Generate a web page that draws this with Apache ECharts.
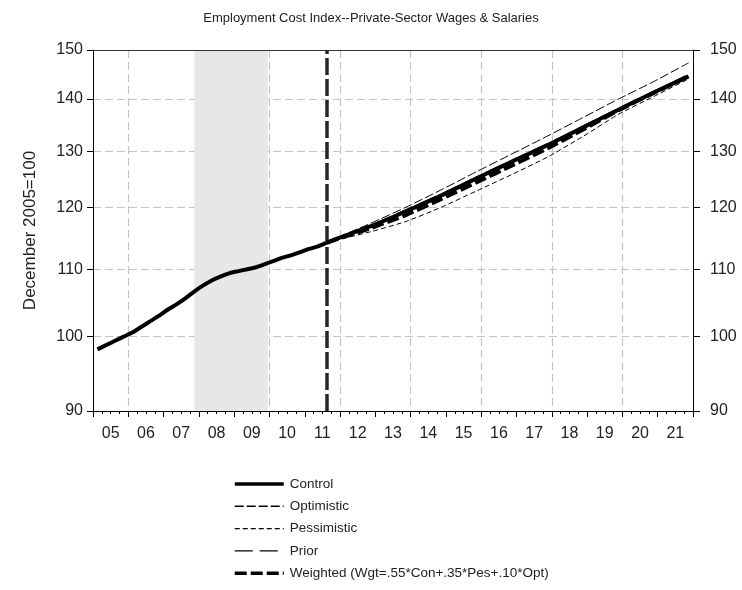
<!DOCTYPE html>
<html>
<head>
<meta charset="utf-8">
<script src="https://cdn.jsdelivr.net/npm/echarts@6/dist/echarts.min.js"></script>
<style>
  html, body { margin: 0; padding: 0; background: #fff; }
  #chart { width: 742px; height: 590px; }
</style>
</head>
<body>
<div id="chart"></div>
<script>
// ECI private-sector wages & salaries, index December 2005 = 100
const yearLabels = ['05','06','07','08','09','10','11','12','13','14','15','16','17','18','19','20','21'];
const yTicks = [90, 100, 110, 120, 130, 140, 150];

// Quarterly history
const histQuarters = [
  '2005Q1','2005Q2','2005Q3','2005Q4','2006Q1','2006Q2','2006Q3','2006Q4',
  '2007Q1','2007Q2','2007Q3','2007Q4','2008Q1','2008Q2','2008Q3','2008Q4',
  '2009Q1','2009Q2','2009Q3','2009Q4','2010Q1','2010Q2','2010Q3','2010Q4',
  '2011Q1','2011Q2','2011Q3'
];
const histValues = [
  98.2, 98.8, 99.4, 100.0, 100.6, 101.4, 102.2, 103.0,
  103.9, 104.7, 105.6, 106.6, 107.5, 108.3, 108.9, 109.4,
  109.7, 110.0, 110.3, 110.8, 111.3, 111.8, 112.2, 112.7,
  113.2, 113.6, 114.2
];

// Forecast paths (first entry is the last history quarter)
const fcstQuarters = ['2011Q3','2011Q4','2012Q4','2013Q4','2014Q4','2015Q4','2016Q4','2017Q4','2018Q4','2019Q4','2020Q4','2021Q4'];
const controlFcst     = [114.2, 114.8, 116.9, 119.4, 122.1, 125.1, 128.1, 131.1, 134.4, 137.8, 141.2, 144.5];
const optimisticFcst  = [114.2, 114.9, 117.4, 120.1, 123.1, 126.3, 129.5, 132.8, 136.3, 139.9, 143.4, 147.3];
const pessimisticFcst = [114.2, 114.6, 116.0, 117.7, 120.1, 122.9, 125.8, 128.9, 132.7, 136.9, 140.4, 144.0];
const priorFcst       = [114.2, 114.9, 117.1, 119.7, 122.4, 125.4, 128.4, 131.4, 134.7, 138.1, 141.5, 144.8];
const weightedFcst    = [114.2, 114.7, 116.6, 118.8, 121.5, 124.4, 127.4, 130.5, 134.0, 137.7, 141.1, 144.6];

// Recession band and last-history marker
const recession = ['2007Q4', '2009Q4'];
const lastHistory = '2011Q3';

// quarter label -> decimal year at mid-quarter
function qx(q) {
  const y = parseInt(q.slice(0, 4), 10);
  const n = parseInt(q.slice(5), 10);
  return y + (n - 0.5) / 4;
}
// the value axis carries log(index) so spacing is logarithmic
const L = Math.log;
function pairs(qs, vals) { return qs.map((q, i) => [qx(q), L(vals[i])]); }

const controlData = pairs(histQuarters, histValues).concat(pairs(fcstQuarters.slice(1), controlFcst.slice(1)));

const FONT = '"Liberation Sans", Arial, sans-serif';
const yTickLog = yTicks.map(L);
const yGridLog = yTicks.slice(1, -1).map(L);
const labelYears = yearLabels.map((s, i) => 2005 + i + 0.5);
const gridYears = [2006, 2008, 2010, 2012, 2014, 2016, 2018, 2020];
const gridLine = { show: true, lineStyle: { color: '#c4c4c4', width: 1.2, type: [8, 4] } };

const styles = {
  'Control':     { color: '#000', width: 4, type: 'solid' },
  'Optimistic':  { color: '#000', width: 1, type: [9, 3] },
  'Pessimistic': { color: '#000', width: 1, type: [5, 3] },
  'Prior':       { color: '#000', width: 1, type: [18, 7] },
  'Weighted (Wgt=.55*Con+.35*Pes+.10*Opt)': { color: '#000', width: 4, type: [12, 4] }
};
const names = Object.keys(styles);
// legend swatches: thin strokes a touch heavier so they read as black
function legendLine(n) {
  const s = styles[n];
  return Object.assign({}, s, { width: s.width < 2 ? 1.4 : 3.5 });
}

function yAxisDef(pos, margin, tickLen) {
  return {
    type: 'value', position: pos, z: 2,
    min: L(yTicks[0]), max: L(yTicks[yTicks.length - 1]),
    axisLine: { show: true, lineStyle: { color: '#000', width: 1 } },
    axisTick: { show: true, length: tickLen, customValues: yTickLog, lineStyle: { color: '#000' } },
    axisLabel: {
      customValues: yTickLog, margin: margin,
      color: '#222', fontFamily: FONT, fontSize: 16, padding: [2, 0, 0, 0],
      formatter: v => String(Math.round(Math.exp(v)))
    },
    splitLine: { show: false }
  };
}

const leftAxis = yAxisDef('left', 10, 6);
leftAxis.name = 'December 2005=100';
leftAxis.nameLocation = 'middle';
leftAxis.nameGap = 54;
leftAxis.nameTextStyle = { fontFamily: FONT, fontSize: 17, color: '#222' };

const chart = echarts.init(document.getElementById('chart'), null, { renderer: 'canvas' });
chart.setOption({
  animation: false,
  backgroundColor: '#fff',
  title: {
    text: 'Employment Cost Index--Private-Sector Wages & Salaries',
    left: 'center', top: 7,
    textStyle: { fontFamily: FONT, fontSize: 13, fontWeight: 'normal', color: '#222' }
  },
  grid: { left: 93, right: 49, top: 50, bottom: 179 },
  legend: {
    orient: 'vertical', left: 233, top: 477, padding: 0,
    itemWidth: 49, itemHeight: 14, itemGap: 8.3,
    itemStyle: { color: 'rgba(0,0,0,0)', borderColor: 'rgba(0,0,0,0)', borderWidth: 0 },
    data: names.map(n => ({ name: n, lineStyle: legendLine(n) })),
    textStyle: { fontFamily: FONT, fontSize: 13.5, color: '#222', padding: [0, 0, 0, 1] },
    selectedMode: false
  },
  xAxis: [
    {
      type: 'value', min: 2005, max: 2022, interval: 1, z: 2,
      axisLine: { show: true, lineStyle: { color: '#000', width: 1 } },
      axisTick: { show: true, length: 6, lineStyle: { color: '#000' } },
      minorTick: { show: true, splitNumber: 4, length: 3, lineStyle: { color: '#000' } },
      axisLabel: {
        customValues: labelYears, margin: 15,
        color: '#222', fontFamily: FONT, fontSize: 16,
        formatter: v => yearLabels[Math.floor(v) - 2005]
      },
      splitLine: { show: false }
    },
    {
      // vertical grid every other year
      type: 'value', min: 2005, max: 2022, position: 'bottom', z: 0,
      axisLine: { show: false },
      axisTick: { show: false, customValues: gridYears },
      axisLabel: { show: false },
      splitLine: gridLine
    },
    {
      // top frame line
      type: 'value', min: 2005, max: 2022, position: 'top', z: 2,
      axisLine: { show: true, lineStyle: { color: '#333', width: 1 } },
      axisTick: { show: false },
      axisLabel: { show: false },
      splitLine: { show: false }
    }
  ],
  yAxis: [
    leftAxis,
    yAxisDef('right', 17, 7),
    {
      // horizontal grid
      type: 'value', position: 'left', z: 0,
      min: L(yTicks[0]), max: L(yTicks[yTicks.length - 1]),
      axisLine: { show: false },
      axisTick: { show: false, customValues: yGridLog },
      axisLabel: { show: false },
      splitLine: gridLine
    }
  ],
  series: [
    {
      name: 'shade', type: 'line', data: [], z: -5, silent: true,
      markArea: {
        silent: true,
        itemStyle: { color: '#e7e7e7' },
        data: [[{ xAxis: qx(recession[0]) }, { xAxis: qx(recession[1]) + 0.08 }]]
      }
    },
    {
      name: 'Optimistic', type: 'line', symbol: 'none', smooth: 0.2, z: 3,
      data: pairs(fcstQuarters, optimisticFcst),
      lineStyle: styles['Optimistic']
    },
    {
      name: 'Pessimistic', type: 'line', symbol: 'none', smooth: 0.2, z: 3,
      data: pairs(fcstQuarters, pessimisticFcst),
      lineStyle: styles['Pessimistic']
    },
    {
      name: 'Prior', type: 'line', symbol: 'none', smooth: 0.2, z: 3,
      data: pairs(fcstQuarters, priorFcst),
      lineStyle: styles['Prior']
    },
    {
      name: 'Control', type: 'line', symbol: 'none', smooth: 0.2, z: 4,
      data: controlData,
      lineStyle: styles['Control'],
      markLine: {
        silent: true, symbol: 'none', label: { show: false },
        lineStyle: { color: '#262626', width: 3.5, type: [17, 4] },
        data: [{ xAxis: qx(lastHistory) }]
      }
    },
    {
      name: 'Weighted (Wgt=.55*Con+.35*Pes+.10*Opt)', type: 'line', symbol: 'none', smooth: 0.2, z: 5,
      data: pairs(fcstQuarters, weightedFcst),
      lineStyle: styles['Weighted (Wgt=.55*Con+.35*Pes+.10*Opt)']
    }
  ]
});
</script>
</body>
</html>
